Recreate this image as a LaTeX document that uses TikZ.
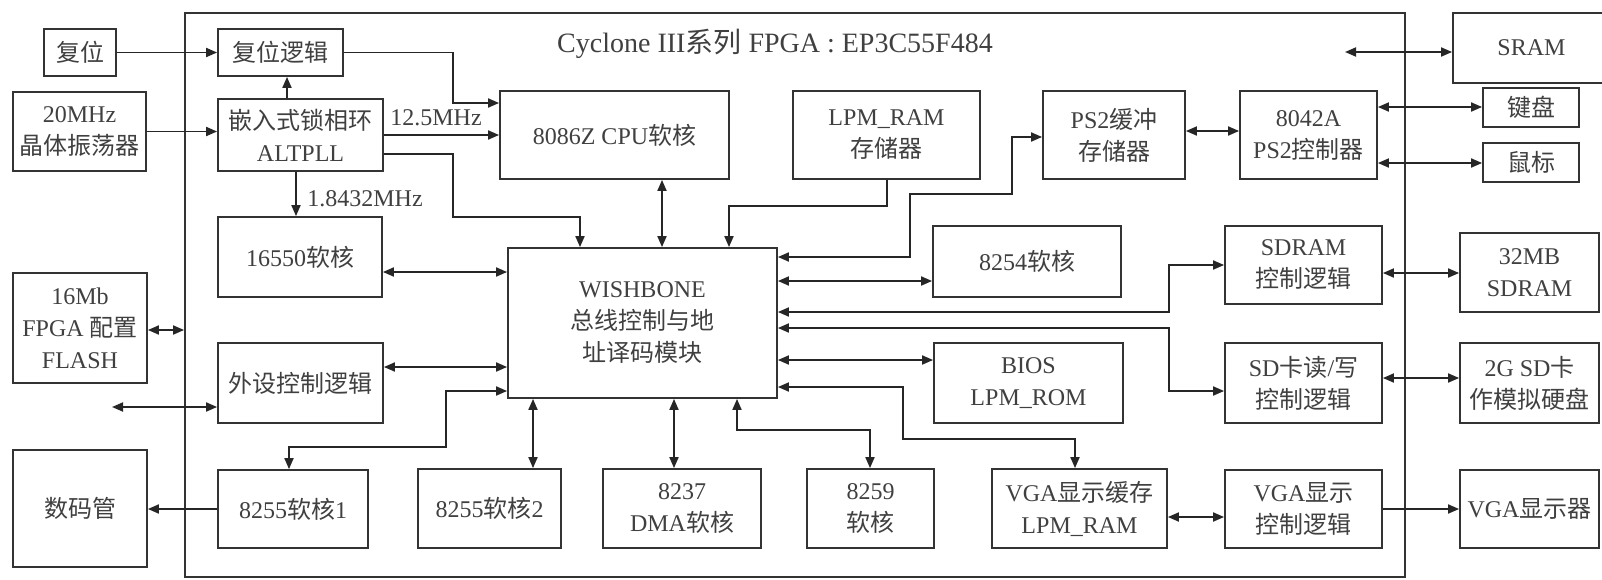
\documentclass[tikz,border=0pt]{standalone}
\usepackage{fontspec}
\setmainfont{Liberation Serif}
\newfontfamily\cjk{Noto Sans CJK SC}
\usetikzlibrary{arrows.meta}
\newcommand\zh[1]{{\cjk #1}}
\newcommand\bx[6]{\node[box, minimum width={(#4-#2)*0.5pt}, minimum height={(#5-#3)*0.5pt}] (#1) at ({(#2+#4)/2},{(#3+#5)/2}) {#6};}
\tikzset{
  box/.style={draw=black!80, line width=0.9pt, inner sep=0pt, align=center, text=black!75,
    font=\fontsize{12}{16}\selectfont},
  lbl/.style={inner sep=0pt, text=black!75, font=\fontsize{12}{16}\selectfont},
  conn/.style={draw=black!85, line width=0.9pt},
  arr/.style={conn, -{Triangle[length=5.5pt,width=4.5pt]}},
  dbl/.style={conn, {Triangle[length=5.5pt,width=4.5pt]}-{Triangle[length=5.5pt,width=4.5pt]}}
}
\begin{document}
\begin{tikzpicture}[x=0.5pt, y=-0.5pt]
\useasboundingbox (0,0) rectangle (1602,579);
\clip (0,0) rectangle (1602,579);
\fill[white] (0,0) rectangle (1602,579);
% FPGA frame
\bx{fpga}{185}{13}{1405}{577}{}
\node[lbl, font=\fontsize{14}{16}\selectfont] (title) at (775,44) {Cyclone III\zh{系列} FPGA : EP3C55F484};
% boxes
\bx{rstin}{44}{29}{116}{76}{\zh{复位}}
\bx{rst}{218}{29}{343}{76}{\zh{复位逻辑}}
\bx{osc}{13}{92}{146}{171}{20MHz\\\zh{晶体振荡器}}
\bx{pll}{218}{99}{383}{171}{\zh{嵌入式锁相环}\\ALTPLL}
\bx{uart}{218}{217}{382}{297}{16550\zh{软核}}
\bx{flash}{13}{273}{147}{383}{16Mb\\FPGA \zh{配置}\\FLASH}
\bx{periph}{218}{343}{383}{423}{\zh{外设控制逻辑}}
\bx{seg}{13}{450}{147}{567}{\zh{数码管}}
\bx{pa}{218}{470}{368}{548}{8255\zh{软核}1}
\bx{pb}{418}{469}{561}{548}{8255\zh{软核}2}
\bx{dma}{603}{469}{761}{548}{8237\\DMA\zh{软核}}
\bx{pic}{807}{469}{934}{548}{8259\\\zh{软核}}
\bx{vbuf}{992}{469}{1167}{548}{VGA\zh{显示缓存}\\LPM\_RAM}
\bx{vctl}{1225}{470}{1382}{548}{VGA\zh{显示}\\\zh{控制逻辑}}
\bx{vga}{1460}{470}{1599}{548}{VGA\zh{显示器}}
\bx{cpu}{500}{91}{729}{179}{8086Z CPU\zh{软核}}
\bx{lram}{793}{91}{980}{179}{LPM\_RAM\\\zh{存储器}}
\bx{ps2b}{1043}{91}{1185}{179}{PS2\zh{缓冲}\\\zh{存储器}}
\bx{kbc}{1240}{91}{1377}{179}{8042A\\PS2\zh{控制器}}
\bx{sram}{1453}{13}{1610}{83}{SRAM}
\bx{kbd}{1483}{88}{1579}{127}{\zh{键盘}}
\bx{mouse}{1483}{143}{1579}{182}{\zh{鼠标}}
\bx{pit}{933}{226}{1121}{297}{8254\zh{软核}}
\bx{sdrc}{1225}{226}{1382}{304}{SDRAM\\\zh{控制逻辑}}
\bx{sdram}{1460}{233}{1599}{312}{32MB\\SDRAM}
\bx{wb}{508}{248}{777}{398}{WISHBONE\\\zh{总线控制与地}\\\zh{址译码模块}}
\bx{bios}{934}{343}{1123}{423}{BIOS\\LPM\_ROM}
\bx{sdc}{1225}{343}{1382}{423}{SD\zh{卡读}/\zh{写}\\\zh{控制逻辑}}
\bx{sd}{1460}{343}{1599}{423}{2G SD\zh{卡}\\\zh{作模拟硬盘}}
% labels
\node[lbl] (f125) at (436,118) {12.5MHz};
\node[lbl] (f18) at (365,199) {1.8432MHz};
% free ends
\coordinate (extL) at (112,407);
\coordinate (sramL) at (1345,52);
% connectors
\draw[arr] (rstin) -- (rst);
\draw[arr] (pll.north -| 287,0) -- (rst.south -| 287,0);
\draw[arr] (osc.east) -- (osc.east -| pll.west);
\draw[arr] (rst.east) -| (453,103) -- (cpu.west |- 0,103);
\draw[arr] (pll.east) -- (pll.east -| cpu.west);
\draw[arr] (pll.east |- 0,154) -| (453,217) -| (wb.north -| 580,0);
\draw[arr] (pll.south -| 296,0) -- (uart.north -| 296,0);
\draw[dbl] (cpu.south -| 662,0) -- (wb.north -| 662,0);
\draw[arr] (lram.south -| 887,0) |- (729,206) -- (wb.north -| 729,0);
\draw[dbl] (uart.east |- 0,272) -- (wb.west |- 0,272);
\draw[dbl] (periph.east |- 0,367) -- (wb.west |- 0,367);
\draw[dbl] (extL) -- (periph.west |- extL);
\draw[dbl] (flash.east |- 0,330) -- (fpga.west |- 0,330);
\draw[dbl] (wb.west |- 0,391) -| (446,447) -| (pa.north -| 289,0);
\draw[arr] (pa.west |- 0,509) -- (seg.east |- 0,509);
\draw[dbl] (wb.south -| 533,0) -- (pb.north -| 533,0);
\draw[dbl] (wb.south -| 674,0) -- (dma.north -| 674,0);
\draw[dbl] (wb.south -| 737,0) |- (870,430) -- (pic.north -| 870,0);
\draw[dbl] (wb.east |- 0,387) -| (903,439) -| (vbuf.north -| 1075,0);
\draw[dbl] (wb.east |- 0,360) -- (bios.west |- 0,360);
\draw[dbl] (wb.east |- 0,328) -| (1169,391) -- (sdc.west |- 0,391);
\draw[dbl] (wb.east |- 0,312) -| (1169,265) -- (sdrc.west |- 0,265);
\draw[dbl] (wb.east |- 0,281) -- (pit.west |- 0,281);
\draw[dbl] (wb.east |- 0,257) -| (910,194) -| (1012,137) -- (ps2b.west |- 0,137);
\draw[dbl] (ps2b.east |- 0,131) -- (kbc.west |- 0,131);
\draw[dbl] (kbc.east |- 0,107) -- (kbd.west |- 0,107);
\draw[dbl] (kbc.east |- 0,163) -- (mouse.west |- 0,163);
\draw[dbl] (sramL) -- (sram.west |- sramL);
\draw[dbl] (sdrc.east |- 0,273) -- (sdram.west |- 0,273);
\draw[dbl] (sdc.east |- 0,378) -- (sd.west |- 0,378);
\draw[dbl] (vbuf.east |- 0,517) -- (vctl.west |- 0,517);
\draw[arr] (vctl.east |- 0,509) -- (vga.west |- 0,509);
\end{tikzpicture}
\end{document}
